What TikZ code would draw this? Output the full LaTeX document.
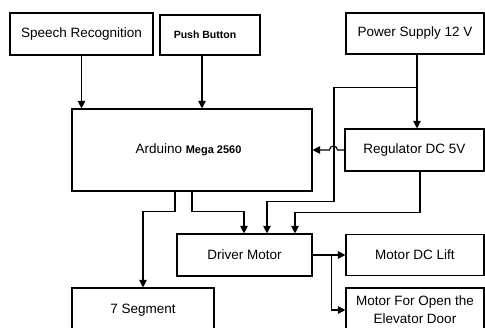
\documentclass[tikz,border=0pt]{standalone}
\usepackage{fontspec}
\setmainfont{Liberation Sans}
\usetikzlibrary{positioning,arrows.meta,calc}

\begin{document}
\begin{tikzpicture}[>={Triangle[length=7.5pt,width=7.5pt]},x=1pt,y=-1pt,
  blk/.style={draw,line width=1.1pt,inner sep=0pt,align=center,font=\fontsize{13.5}{18}\selectfont},
  link/.style={->,line width=1.1pt}]
  \useasboundingbox (0,0) rectangle (485,327);
  \clip (0,0) rectangle (485,327);
  % blocks
  \node[blk,minimum width=143pt,minimum height=42pt] (speech) at (81.5,34) {Speech Recognition};
  \node[blk,line width=1.9pt,minimum width=100pt,minimum height=40pt,font=\bfseries\fontsize{10.5}{12}\selectfont] (push) at (210,35) {\hspace*{-10pt}Push Button};
  \node[blk,minimum width=138pt,minimum height=41pt] (power) at (415,33.5) {Power Supply 12 V};
  \node[blk,minimum width=240pt,minimum height=82pt] (arduino) at (192,150)
    {\hspace*{-7pt}Arduino {\bfseries\fontsize{11}{13}\selectfont Mega 2560}};
  \node[blk,minimum width=139pt,minimum height=42pt] (reg) at (414.5,150) {Regulator DC 5V};
  \node[blk,minimum width=135pt,minimum height=42pt] (driver) at (244.5,255) {Driver Motor};
  \node[blk,minimum width=142pt,minimum height=44pt] (seg) at (143,310) {7 Segment};
  \node[blk,minimum width=138pt,minimum height=41pt] (dclift) at (415,255) {Motor DC Lift};
  \node[blk,minimum width=138pt,minimum height=44pt] (door) at (415,310) {Motor For Open the\\Elevator Door};
  % points on the edges
  \coordinate (pb) at ([xshift=-8pt]push.south);
  \coordinate (ps) at ([xshift=2pt]power.south);
  \coordinate (jn) at ($(ps)+(0,33)$);
  \coordinate (rb) at ([xshift=5.5pt]reg.south);
  \coordinate (al) at ([xshift=-17pt]arduino.south);
  \coordinate (d1) at ([xshift=-0.5pt]driver.north);
  \coordinate (d2) at ([xshift=22.5pt]driver.north);
  \coordinate (d3) at ([xshift=50.5pt]driver.north);
  \coordinate (br) at ($(driver.east)+(19,0)$);
  % connectors
  \draw[link] (speech.south) -- (speech.south |- arduino.north);
  \draw[link] (pb) -- (pb |- arduino.north);
  \draw[link] (ps) -- (ps |- reg.north);
  \draw[link] (jn) -- ++(-83,0) |- ($(d2)+(0,-32)$) -- (d2);
  \draw[link] (reg.west) -- ++(-7,0) arc[start angle=0,end angle=-180,radius=4] -- (arduino.east);
  \draw[link] (rb) |- ($(d3)+(0,-21)$) -- (d3);
  \draw[link] (arduino.south) |- ($(d1)+(0,-22)$) -- (d1);
  \draw[link] (al) |- ($(seg.north)+(0,-76)$) -- (seg.north);
  \draw[link] (driver.east) -- (dclift.west);
  \draw[link] (br) |- (door.west);
\end{tikzpicture}
\end{document}
